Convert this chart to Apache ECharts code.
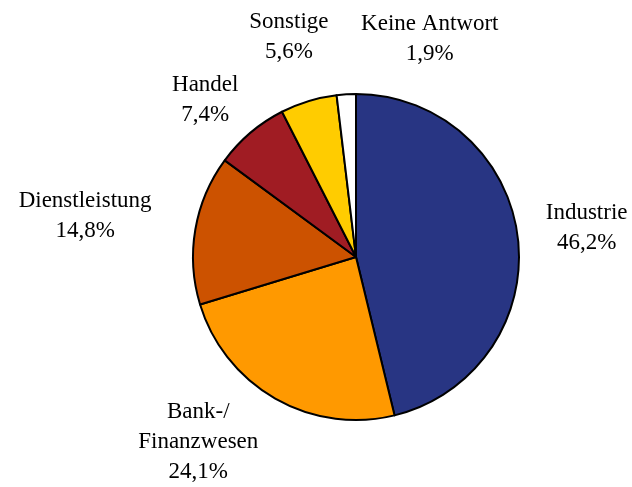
<!DOCTYPE html>
<html>
<head>
<meta charset="utf-8">
<style>
  html, body { margin: 0; padding: 0; background: #fff; }
  #chart { width: 632px; height: 487px; }
</style>
<script src="https://cdn.jsdelivr.net/npm/echarts@6/dist/echarts.min.js"></script>
</head>
<body>
<div id="chart"></div>
<script>
// Branchenverteilung (Anteile in %)
const categories = ['Industrie', 'Bank-/\nFinanzwesen', 'Dienstleistung', 'Handel', 'Sonstige', 'Keine Antwort'];
const shares = [46.2, 24.1, 14.8, 7.4, 5.6, 1.9];
const sliceColors = ['#283583', '#FF9900', '#CC5200', '#A01C23', '#FFCC00', '#FFFFFF'];
// label nudges relative to the default outside position
const labelDx = [9, -5, -25, 2, 29, 158];
const labelDy = [-8, 31, -11, -22, -51, -41];

const chart = echarts.init(document.getElementById('chart'), null, { renderer: 'canvas' });

const fmt = v => v.toFixed(1).replace('.', ',') + '%';

chart.setOption({
  animation: false,
  backgroundColor: '#ffffff',
  series: [{
    type: 'pie',
    center: [356, 257],
    radius: [0, 163],
    startAngle: 90,
    clockwise: true,
    avoidLabelOverlap: false,
    data: categories.map((name, i) => ({
      name: name,
      value: shares[i],
      itemStyle: { color: sliceColors[i] }
    })),
    itemStyle: { borderColor: '#000', borderWidth: 2 },
    emphasis: { disabled: true },
    labelLine: { show: false, length: 14, length2: 0 },
    label: {
      show: true,
      position: 'outside',
      color: '#000',
      fontFamily: 'Liberation Serif',
      fontSize: 23,
      lineHeight: 30,
      formatter: p => p.name.split('\n').concat(fmt(p.value)).map(s => '{c|' + s + '}').join('\n'),
      rich: { c: { align: 'center', fontFamily: 'Liberation Serif', fontSize: 23, lineHeight: 30, color: '#000' } }
    },
    labelLayout: p => {
      const r = p.labelRect;
      return {
        x: r.x + r.width / 2 + labelDx[p.dataIndex],
        y: r.y + r.height / 2 + labelDy[p.dataIndex],
        align: 'center',
        verticalAlign: 'middle'
      };
    }
  }]
});
</script>
</body>
</html>
